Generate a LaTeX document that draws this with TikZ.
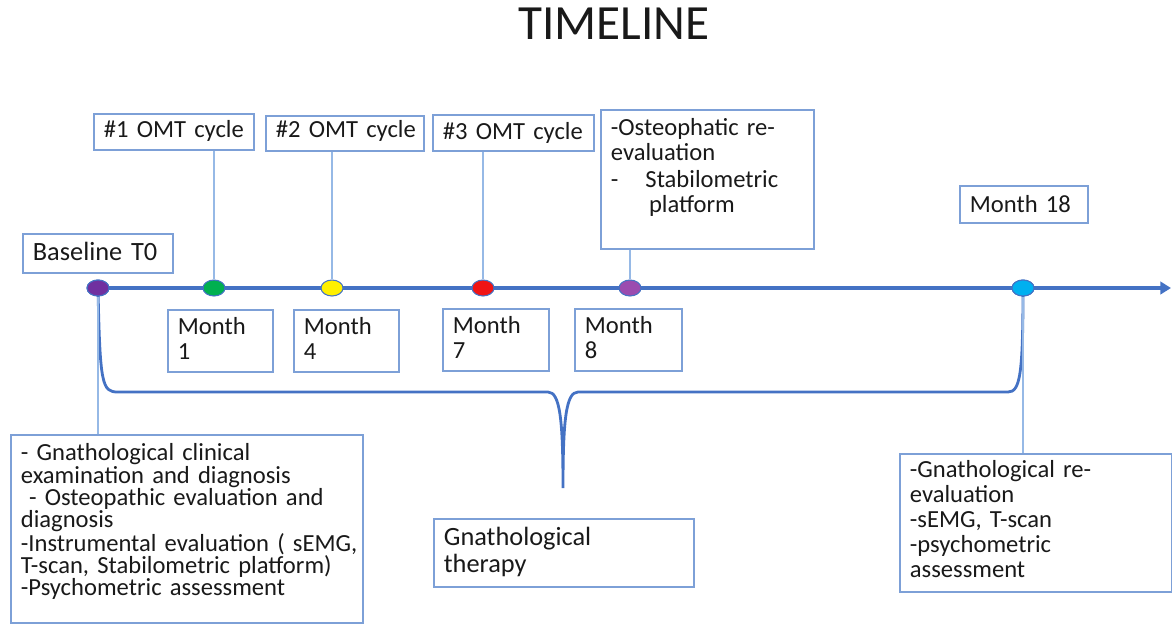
\documentclass[tikz,border=0pt]{standalone}
\usepackage{fontspec}
\setmainfont{Carlito}
\usetikzlibrary{shapes.geometric,arrows.meta}
\definecolor{lineblue}{RGB}{68,114,196}
\definecolor{boxblue}{RGB}{125,160,215}
\definecolor{thinblue}{RGB}{150,185,230}
\definecolor{dotpurple}{RGB}{112,48,160}
\definecolor{dotgreen}{RGB}{0,176,80}
\definecolor{dotyellow}{RGB}{255,240,0}
\definecolor{dotred}{RGB}{240,20,20}
\definecolor{dotlilac}{RGB}{155,75,175}
\definecolor{dotcyan}{RGB}{0,176,240}
\definecolor{txt}{RGB}{25,25,25}
\tikzset{
  box/.style={draw=boxblue, line width=1pt, anchor=north west, inner xsep=0.2cm, inner ysep=0pt,
    align=left, text=txt, font=\fontsize{14}{12.6}\selectfont,
    execute at begin node={\hyphenpenalty=10000\exhyphenpenalty=10000}},
  dot/.style={ellipse, draw=lineblue, line width=0.6pt, minimum width=0.44cm, minimum height=0.32cm, inner sep=0pt},
  conn/.style={thinblue, line width=0.8pt},
}
\begin{document}
\begin{tikzpicture}[x=0.02cm,y=-0.02cm]
\useasboundingbox (0,0) rectangle (1172,623);
%titel
\node[text=txt, font=\fontsize{28}{30}\selectfont] (title) at (614,24) {TIMELINE};
%akse
\coordinate (astart) at (88,288);
\coordinate (aend) at (1171,288);
\draw[lineblue, line width=2pt, -{Triangle[length=6pt,width=7pt]}] (astart)--(aend);
%punkter
\node[dot, fill=dotpurple] (d0) at (98,288) {};
\node[dot, fill=dotgreen] (d1) at (214,288) {};
\node[dot, fill=dotyellow] (d2) at (332,288) {};
\node[dot, fill=dotred] (d3) at (483,288) {};
\node[dot, fill=dotlilac] (d4) at (630,288) {};
\node[dot, fill=dotcyan] (d5) at (1023,288) {};
%bokse over
\node[box, text width=2.6cm, text height=0.54cm, text depth=0.24cm, font=\fontsize{15}{15}\selectfont] (base) at (22,233) {\mbox{Baseline T0}};
\node[box, text width=2.8cm, text height=0.48cm, text depth=0.24cm] (omt1) at (93,113) {\mbox{\#1 OMT cycle}};
\node[box, text width=2.76cm, text height=0.44cm, text depth=0.26cm] (omt2) at (265,115) {\mbox{\#2 OMT cycle}};
\node[box, text width=2.82cm, text height=0.5cm, text depth=0.22cm] (omt3) at (432,114) {\mbox{\#3 OMT cycle}};
\node[box, text width=3.86cm, text height=0.52cm, text depth=2.26cm, font=\fontsize{14}{14.2}\selectfont] (osteo) at (600,109)
  {-Osteophatic re-\\evaluation\\[1pt]-\hspace{1.1em}Stabilometric\\\hspace{1.55em}platform};
\node[box, text width=2.16cm, text height=0.54cm, text depth=0.2cm] (m18) at (959,185) {\mbox{Month 18}};
%bokse under
\node[box, text width=1.7cm, text height=0.5cm, text depth=0.74cm, font=\fontsize{14}{14.2}\selectfont] (m1) at (167,309) {Month\\1};
\node[box, text width=1.7cm, text height=0.5cm, text depth=0.74cm, font=\fontsize{14}{14.2}\selectfont] (m4) at (293,309) {Month\\4};
\node[box, text width=1.72cm, text height=0.5cm, text depth=0.74cm, font=\fontsize{14}{14.2}\selectfont] (m7) at (442,308) {Month\\7};
\node[box, text width=1.74cm, text height=0.5cm, text depth=0.74cm, font=\fontsize{14}{14.2}\selectfont] (m8) at (574,308) {Month\\8};
\node[box, text width=6.64cm, text height=0.52cm, text depth=3.24cm] (exam) at (10,434)
  {- Gnathological clinical\\examination and diagnosis\\\ - Osteopathic evaluation and\\diagnosis\\\mbox{-Instrumental evaluation ( sEMG,}\\\mbox{T-scan, Stabilometric platform)}\\-Psychometric assessment};
\node[box, text width=5.04cm, text height=0.48cm, text depth=2.28cm, font=\fontsize{14}{14.2}\selectfont] (reeval) at (899,453)
  {-Gnathological re-\\evaluation\\-sEMG, T-scan\\-psychometric\\assessment};
\node[box, text width=4.8cm, text height=0.54cm, text depth=0.82cm, font=\fontsize{15}{15.3}\selectfont] (ther) at (433,518)
  {Gnathological\\therapy};
%klamme
\draw[lineblue, line width=1.6pt] (d0.center) .. controls (100,385) and (102,392) .. (118,392) -- (548,392)
  .. controls (560,392) and (563,420) .. (563,488)
  .. controls (563,420) and (566,392) .. (578,392) -- (1008,392)
  .. controls (1020,392) and (1023,375) .. (d5.center);
%forbindelser
\draw[conn] (d1)--(d1 |- omt1.south);
\draw[conn] (d2)--(d2 |- omt2.south);
\draw[conn] (d3)--(d3 |- omt3.south);
\draw[conn] (d4)--(d4 |- osteo.south);
\draw[conn] (d0)--(d0 |- exam.north);
\draw[conn] (d5)--(d5 |- reeval.north);
%punkter igen
\node[dot, fill=dotpurple] at (d0) {};
\node[dot, fill=dotcyan] at (d5) {};
\end{tikzpicture}
\end{document}
